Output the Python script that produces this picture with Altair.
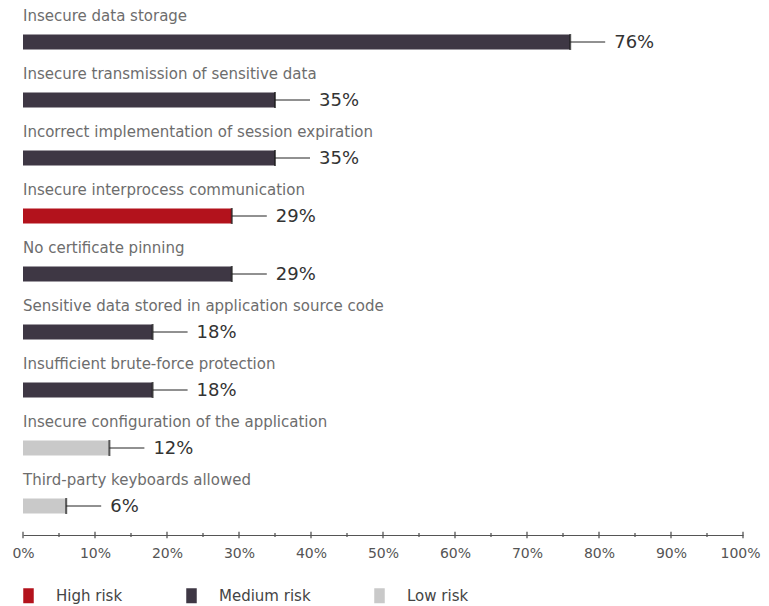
import altair as alt
import pandas as pd

categories = [
    "Insecure data storage",
    "Insecure transmission of sensitive data",
    "Incorrect implementation of session expiration",
    "Insecure interprocess communication",
    "No certificate pinning",
    "Sensitive data stored in application source code",
    "Insufficient brute-force protection",
    "Insecure configuration of the application",
    "Third-party keyboards allowed",
]
values = [76, 35, 35, 29, 29, 18, 18, 12, 6]
risks = [
    "Medium risk", "Medium risk", "Medium risk", "High risk", "Medium risk",
    "Medium risk", "Medium risk", "Low risk", "Low risk",
]
risk_levels = ["High risk", "Medium risk", "Low risk"]
risk_colors = ["#b3121c", "#3e3744", "#c9c9c9"]
major_ticks = [0, 10, 20, 30, 40, 50, 60, 70, 80, 90, 100]
minor_ticks = [5, 15, 25, 35, 45, 55, 65, 75, 85, 95]

df = pd.DataFrame({
    "category": categories,
    "value": values,
    "risk": risks,
    "label": [f"{v}%" for v in values],
})
major_df = pd.DataFrame({"t": major_ticks})
minor_df = pd.DataFrame({"t": minor_ticks})

FONT = "DejaVu Sans"
W, H = 720, 522

xscale = alt.Scale(domain=[0, 100], nice=False, zero=True)
yenc = alt.Y("category:N", sort=categories, axis=None,
             scale=alt.Scale(paddingInner=0, paddingOuter=0))

base = alt.Chart(df)

bars = base.mark_bar(size=15).encode(
    x=alt.X("value:Q", scale=xscale,
            axis=alt.Axis(values=major_ticks, labelExpr="datum.value + '%'",
                          ticks=False, tickSize=0, grid=False,
                          labelFlush=False, labelOverlap=False,
                          labelOffset={"condition": {"test": "datum.value === 100", "value": -3}, "value": 0},
                          domainColor="#555555", domainWidth=1,
                          labelFont=FONT, labelFontSize=14, labelColor="#555555",
                          labelPadding=11, title=None)),
    y=yenc,
    color=alt.Color("risk:N",
                    scale=alt.Scale(domain=risk_levels, range=risk_colors),
                    legend=alt.Legend(orient="none", legendX=-2, legendY=575,
                                      direction="horizontal", title=None,
                                      symbolType="M-0.7,-1H0.7V1H-0.7Z",
                                      symbolSize=225, symbolStrokeWidth=0,
                                      labelFont=FONT, labelFontSize=15,
                                      labelColor="#444444", labelOffset=20,
                                      columnPadding=61)),
)

endtick = base.mark_tick(orient="vertical", size=16, thickness=2,
                         color="#1a1a1a").encode(
    x=alt.X("value:Q", scale=xscale), y=yenc)

leader = base.mark_rule(x2Offset=35, color="#222222", strokeWidth=1).encode(
    x=alt.X("value:Q", scale=xscale), x2="value:Q", y=yenc)

vlabels = base.mark_text(align="left", baseline="middle", dx=44, dy=1,
                         font=FONT, fontSize=18, color="#333333").encode(
    x=alt.X("value:Q", scale=xscale), y=yenc, text="label:N")

clabels = base.mark_text(align="left", baseline="alphabetic", dy=-21,
                         font=FONT, fontSize=15, color="#6d6d6d").encode(
    x=alt.value(0), y=yenc, text="category:N")

major = alt.Chart(major_df).mark_rule(color="#555555", strokeWidth=1.3).encode(
    x=alt.X("t:Q", scale=xscale), y=alt.value(H - 3.3), y2=alt.value(H + 3.3))
minor = alt.Chart(minor_df).mark_rule(color="#555555", strokeWidth=1.3).encode(
    x=alt.X("t:Q", scale=xscale), y=alt.value(H - 2), y2=alt.value(H + 2))

chart = alt.layer(bars, leader, endtick, vlabels, clabels, major, minor).properties(
    width=W, height=H,
    autosize=alt.AutoSizeParams(type="none"),
    padding={"left": 15, "top": 5, "right": 18, "bottom": 71},
    background="white",
).configure_view(stroke=None)

chart.save("out.html", embed_options={"renderer": "svg", "actions": False})
